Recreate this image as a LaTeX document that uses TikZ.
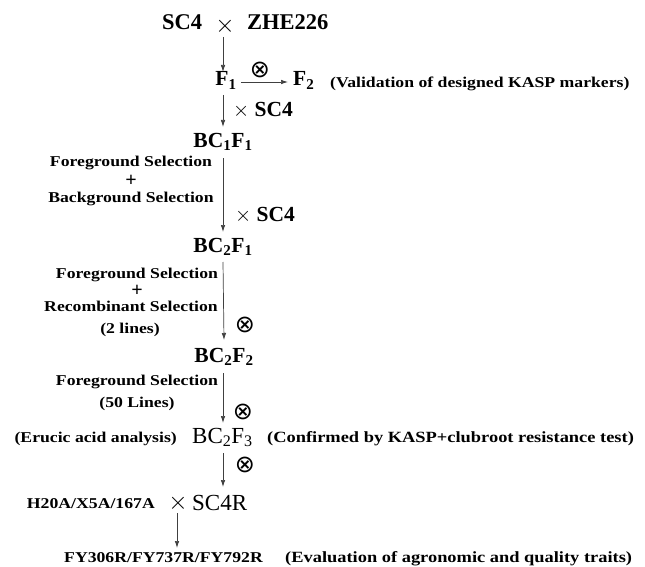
\documentclass[tikz,border=0pt]{standalone}
\usepackage{fontspec}
\setmainfont{Liberation Serif}
\newfontfamily\lblfont[FakeStretch=1.18]{Liberation Serif}
\newfontfamily\symfont{DejaVu Sans}
\usetikzlibrary{arrows.meta,calc}
\tikzset{
  big/.style={font=\fontsize{22.5}{27}\selectfont\bfseries, inner sep=0pt},
  gen/.style={font=\fontsize{21.5}{26}\selectfont\bfseries, inner sep=0pt},
  genr/.style={font=\fontsize{23}{27}\selectfont, inner sep=0pt},
  crs/.style={font=\fontsize{24}{28}\selectfont, inner sep=0pt},
  lbl/.style={font=\lblfont\fontsize{15}{18}\selectfont\bfseries, inner sep=0pt},
  lblw/.style={font=\lblfont\fontsize{15.6}{18}\selectfont\bfseries, inner sep=0pt},
  plus/.style={font=\fontsize{20}{22}\selectfont\bfseries, inner sep=0pt},
  selfs/.style={font=\symfont\fontsize{24}{26}\selectfont, inner sep=0pt},
  arr/.style={-{Latex[length=7pt,width=4.5pt]}, line width=0.7pt, draw=black!75},
}
\begin{document}
\begin{tikzpicture}[x=1pt,y=1pt]
\useasboundingbox[fill=white] (0,0) rectangle (645,-567);
% row 1
\node[big,anchor=base west] (sc4) at (162,-30) {SC4};
\node[crs] (x1) at (225,-26.5) {$\times$};
\node[big,anchor=base west] (zhe) at (247,-30) {ZHE226};
% F1 / F2
\node[gen,anchor=base] (F1) at (226,-86) {F\textsubscript{1}};
\node[selfs] (s1) at (260,-70) {⊗};
\node[gen,anchor=base west] (F2) at (293,-86) {F\textsubscript{2}};
\node[lbl,anchor=base west] (val) at (330,-88) {(Validation of designed KASP markers)};
\node[gen,anchor=base west] (xsc4a) at (233,-117) {$\times$ SC4};
% BC1F1
\node[gen,anchor=base] (BC1F1) at (223,-147) {BC\textsubscript{1}F\textsubscript{1}};
\node[lbl,anchor=base] (fs1) at (131,-167) {Foreground Selection};
\node[plus,anchor=base] (p1) at (131,-186) {+};
\node[lbl,anchor=base] (bs1) at (131,-202) {Background Selection};
\node[gen,anchor=base west] (xsc4b) at (235,-221) {$\times$ SC4};
% BC2F1
\node[gen,anchor=base] (BC2F1) at (223,-252) {BC\textsubscript{2}F\textsubscript{1}};
\node[lbl,anchor=base] (fs2) at (137,-278) {Foreground Selection};
\node[plus,anchor=base] (p2) at (137,-296) {+};
\node[lbl,anchor=base] (rs2) at (131,-311) {Recombinant Selection};
\node[lbl,anchor=base] (tl2) at (130,-333) {(2 lines)};
\node[selfs] (s2) at (245,-325) {⊗};
% BC2F2
\node[gen,anchor=base] (BC2F2) at (224,-362) {BC\textsubscript{2}F\textsubscript{2}};
\node[lbl,anchor=base] (fs3) at (137,-385) {Foreground Selection};
\node[lbl,anchor=base] (fl3) at (137,-407) {(50 Lines)};
\node[selfs] (s3) at (243,-412) {⊗};
% BC2F3
\node[lbl,anchor=base east] (eru) at (177,-442) {(Erucic acid analysis)};
\node[genr,anchor=base] (BC2F3) at (222.5,-443) {BC\textsubscript{2}F\textsubscript{3}};
\node[lblw,anchor=base west] (conf) at (267,-442) {(Confirmed by KASP+clubroot resistance test)};
\node[selfs] (s4) at (245,-465) {⊗};
% final cross
\node[lbl,anchor=base east] (h20) at (155,-508) {H20A/X5A/167A};
\node[crs] (x2) at (178,-503) {$\times$};
\node[genr,anchor=base west] (SC4R) at (192,-510) {SC4R};
\node[lbl,anchor=base east] (fy) at (263,-562) {FY306R/FY737R/FY792R};
\node[lblw,anchor=base west] (eva) at (285,-562) {(Evaluation of agronomic and quality traits)};
% arrows
\draw[arr] ($(x1.south)+(-2,-2)$) -- ($(F1.base)+(-3,14)$);
\draw[arr] ($(F1.base east)+(4,4)$) -- ($(F2.base west)+(-5,4)$);
\draw[arr] ($(F1.base)+(-3,-9)$) -- ($(BC1F1.base)+(0,20)$);
\draw[arr] ($(BC1F1.base)+(0,-11)$) -- ($(BC2F1.base)+(0,20)$);
\draw[arr] ($(BC2F1.base)+(0,-10)$) -- ($(BC2F2.base)+(0,22)$);
\draw[arr] ($(BC2F2.base)+(-1,-11)$) -- ($(BC2F3.base)+(0.5,20)$);
\draw[arr] ($(BC2F3.base)+(0.5,-10)$) -- ($(SC4R.base west)+(31,23)$);
\coordinate (a8) at ($(x2.south)+(-1,-2)$);
\coordinate (b8) at ($(fy.base)+(0,14)$);
\draw[arr] (a8) -- (a8 |- b8);
\end{tikzpicture}
\end{document}
